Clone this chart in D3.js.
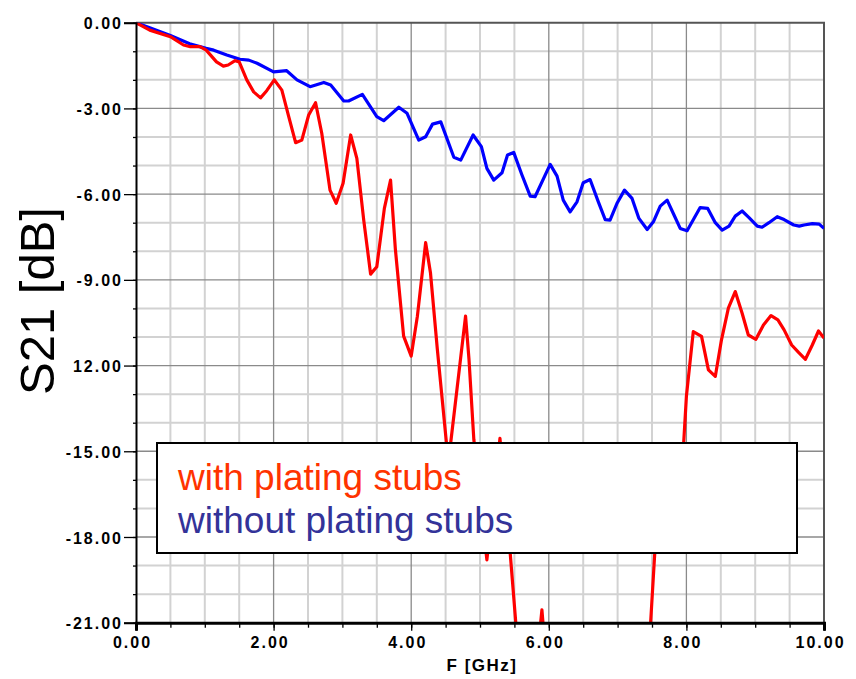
<!DOCTYPE html>
<html>
<head>
<meta charset="utf-8">
<script src="https://cdn.jsdelivr.net/npm/d3@7"></script>
<style>
  body { margin: 0; background: #fff; }
  text { font-family: "Liberation Sans", Arial, sans-serif; }
</style>
</head>
<body>
<div id="chart"></div>
<script>
// S21 curves (F in GHz, S21 in dB)
const blueFreq = [0, 0.2, 0.5, 0.78, 1.02, 1.13, 1.32, 1.51, 1.64, 1.76, 2.0, 2.19, 2.34, 2.53, 2.73, 2.83,
  3.02, 3.09, 3.29, 3.5, 3.6, 3.82, 3.94, 4.11, 4.21, 4.31, 4.43, 4.62, 4.72, 4.9, 5.02, 5.1, 5.2, 5.32,
  5.4, 5.49, 5.61, 5.73, 5.8, 6.02, 6.12, 6.21, 6.31, 6.41, 6.5, 6.6, 6.72, 6.82, 6.89, 6.99, 7.1, 7.21,
  7.31, 7.43, 7.52, 7.62, 7.72, 7.82, 7.91, 8.01, 8.11, 8.2, 8.31, 8.42, 8.52, 8.62, 8.71, 8.81, 8.91,
  9.03, 9.1, 9.2, 9.32, 9.42, 9.56, 9.64, 9.71, 9.83, 9.93, 10.0];
const blueDb = [0, -0.18, -0.45, -0.74, -0.9, -0.96, -1.13, -1.28, -1.31, -1.42, -1.72, -1.68, -2.0, -2.24, -2.09, -2.18,
  -2.74, -2.74, -2.51, -3.29, -3.43, -2.96, -3.17, -4.11, -3.99, -3.55, -3.47, -4.71, -4.81, -3.93, -4.34, -5.1, -5.51, -5.25,
  -4.63, -4.54, -5.33, -6.07, -6.09, -4.96, -5.37, -6.21, -6.62, -6.27, -5.6, -5.49, -6.27, -6.89, -6.91, -6.33, -5.86, -6.15,
  -6.85, -7.24, -6.97, -6.42, -6.21, -6.73, -7.2, -7.28, -6.85, -6.47, -6.5, -7.0, -7.26, -7.12, -6.77, -6.59, -6.82,
  -7.12, -7.16, -7.0, -6.79, -6.89, -7.08, -7.12, -7.08, -7.03, -7.05, -7.2];

const redFreq = [0, 0.2, 0.5, 0.69, 0.79, 0.93, 1.02, 1.17, 1.27, 1.34, 1.44, 1.5, 1.61, 1.71, 1.81, 1.9, 2.01,
  2.12, 2.22, 2.32, 2.41, 2.51, 2.61, 2.7, 2.82, 2.91, 3.01, 3.12, 3.21, 3.31, 3.41, 3.5, 3.61, 3.7, 3.77,
  3.89, 4.0, 4.09, 4.21, 4.28, 4.38, 4.54, 4.79, 4.84, 4.91, 5.1, 5.29, 5.44, 5.52, 5.65, 5.8, 5.9, 6.0,
  6.5, 7.0, 7.42, 7.48, 7.54, 7.96, 8.0, 8.1, 8.22, 8.32, 8.42, 8.51, 8.61, 8.71, 8.81, 8.9, 9.01, 9.12,
  9.23, 9.33, 9.42, 9.53, 9.63, 9.73, 9.83, 9.92, 10.0];
const redDb = [0, -0.26, -0.49, -0.78, -0.84, -0.84, -0.96, -1.37, -1.52, -1.48, -1.33, -1.37, -2.0, -2.42, -2.63, -2.38, -2.0,
  -2.36, -3.29, -4.2, -4.11, -3.23, -2.8, -3.87, -5.86, -6.32, -5.62, -3.93, -4.75, -6.91, -8.8, -8.54, -6.5, -5.51, -7.93,
  -10.97, -11.67, -10.27, -7.7, -8.75, -11.43, -15.4, -10.27, -11.78, -14.58, -18.8, -14.55, -18.6, -21.0, -23.5, -23.0, -20.55, -23.5,
  -26.0, -26.0, -23.0, -21.0, -18.57, -14.72, -13.08, -10.81, -10.98, -12.15, -12.38, -11.1, -9.99, -9.41, -10.17, -10.93, -11.08, -10.58,
  -10.25, -10.4, -10.75, -11.28, -11.54, -11.78, -11.28, -10.79, -11.04];

const xMajorTicks = [0, 2, 4, 6, 8, 10];
const xMinorTicks = d3.range(0, 10.01, 0.5);
const yMajorTicks = [0, -3, -6, -9, -12, -15, -18, -21];
const yMinorTicks = d3.range(0, -21.01, -1);
const legendLabels = ["with plating stubs", "without plating stubs"];
const legendColors = ["#ff3300", "#333399"];

const W = 856, H = 679;
const plotLeft = 136, plotRight = 824, plotTop = 22.7, plotBottom = 622.7;

const svg = d3.select("#chart").append("svg")
  .attr("width", W).attr("height", H);

const x = d3.scaleLinear().domain([0, 10]).range([plotLeft, plotRight]);
const y = d3.scaleLinear().domain([-21, 0]).range([plotBottom, plotTop]);

// grid: light minor lines, darker major lines
const grid = svg.append("g");
grid.selectAll(".vminor").data(xMinorTicks.filter(d => d % 2 != 0 && d < 10))
  .enter().append("line")
  .attr("x1", d => x(d)).attr("x2", d => x(d)).attr("y1", plotTop).attr("y2", plotBottom)
  .attr("stroke", "#d2d2d2").attr("stroke-width", 2);
grid.selectAll(".hminor").data(yMinorTicks.filter(d => d % 3 != 0))
  .enter().append("line")
  .attr("y1", d => y(d)).attr("y2", d => y(d)).attr("x1", plotLeft).attr("x2", plotRight)
  .attr("stroke", "#d2d2d2").attr("stroke-width", 2);
grid.selectAll(".vmajor").data(xMajorTicks.slice(1, -1))
  .enter().append("line")
  .attr("x1", d => x(d)).attr("x2", d => x(d)).attr("y1", plotTop).attr("y2", plotBottom)
  .attr("stroke", "#8a8a8a").attr("stroke-width", 1.3);
grid.selectAll(".hmajor").data(yMajorTicks.slice(1, -1))
  .enter().append("line")
  .attr("y1", d => y(d)).attr("y2", d => y(d)).attr("x1", plotLeft).attr("x2", plotRight)
  .attr("stroke", "#8a8a8a").attr("stroke-width", 1.3);

// frame top and right
svg.append("path")
  .attr("d", `M${plotLeft},${plotTop}H${plotRight}V${plotBottom}`)
  .attr("fill", "none").attr("stroke", "#555").attr("stroke-width", 2);

// curves, clipped to the plot area
svg.append("clipPath").attr("id", "plotclip").append("rect")
  .attr("x", plotLeft).attr("y", plotTop).attr("width", plotRight - plotLeft).attr("height", plotBottom - plotTop);

const line = d3.line().x(d => x(d[0])).y(d => y(d[1]));
const curves = svg.append("g").attr("clip-path", "url(#plotclip)");
curves.append("path")
  .attr("d", line(blueFreq.map((f, i) => [f, blueDb[i]])))
  .attr("fill", "none").attr("stroke", "#0000ff").attr("stroke-width", 3.2)
  .attr("stroke-linejoin", "round");
curves.append("path")
  .attr("d", line(redFreq.map((f, i) => [f, redDb[i]])))
  .attr("fill", "none").attr("stroke", "#ff0000").attr("stroke-width", 3.2)
  .attr("stroke-linejoin", "round");

// axes
const fmt = d => d.toFixed(2);
const tickFont = g => g.selectAll("text")
  .style("font-size", "16px").style("font-weight", "bold")
  .style("letter-spacing", "2px").attr("fill", "#000");

const yMinor = svg.append("g").attr("transform", `translate(${plotLeft},0)`)
  .call(d3.axisLeft(y).tickValues(yMinorTicks).tickSize(3).tickFormat(""));
const yMajor = svg.append("g").attr("transform", `translate(${plotLeft},0)`)
  .call(d3.axisLeft(y).tickValues(yMajorTicks).tickSize(12).tickPadding(1).tickFormat(fmt))
  .call(tickFont);
yMajor.selectAll("text").attr("dy", "0.38em");

const xMinor = svg.append("g").attr("transform", `translate(0,${plotBottom})`)
  .call(d3.axisBottom(x).tickValues(xMinorTicks).tickSize(5).tickFormat(""));
const xMajor = svg.append("g").attr("transform", `translate(0,${plotBottom})`)
  .call(d3.axisBottom(x).tickValues(xMajorTicks).tickSize(8).tickFormat(fmt))
  .call(tickFont);
xMajor.selectAll("text").attr("y", 25).attr("dy", 0).attr("x", -4);

[yMinor, yMajor, xMinor, xMajor].forEach(g => g.selectAll(".tick line").attr("stroke", "#000").attr("stroke-width", 1.3));
yMinor.select(".domain").remove();
xMinor.select(".domain").remove();
yMajor.select(".domain").attr("stroke", "#000").attr("stroke-width", 2);
xMajor.select(".domain").attr("stroke", "#000").attr("stroke-width", 3);

// legend box
const legend = svg.append("g");
legend.append("rect")
  .attr("x", 157).attr("y", 443).attr("width", 640).attr("height", 110)
  .attr("fill", "#fff").attr("stroke", "#000").attr("stroke-width", 2);
legend.selectAll("text").data(legendLabels).enter().append("text")
  .attr("x", 178).attr("y", (d, i) => 490 + i * 43)
  .attr("fill", (d, i) => legendColors[i])
  .style("font-size", "37px")
  .text(d => d);

// axis titles
svg.append("rect").attr("x", 12).attr("y", 200).attr("width", 60).attr("height", 200).attr("fill", "#fff");
svg.append("text")
  .attr("transform", "translate(54,301) rotate(-90)")
  .attr("text-anchor", "middle")
  .style("font-size", "49px")
  .text("S21 [dB]");

svg.append("text")
  .attr("x", 482).attr("y", 671)
  .attr("text-anchor", "middle")
  .style("font-size", "17px").style("font-weight", "bold").style("letter-spacing", "1.5px")
  .text("F [GHz]");
</script>
</body>
</html>
